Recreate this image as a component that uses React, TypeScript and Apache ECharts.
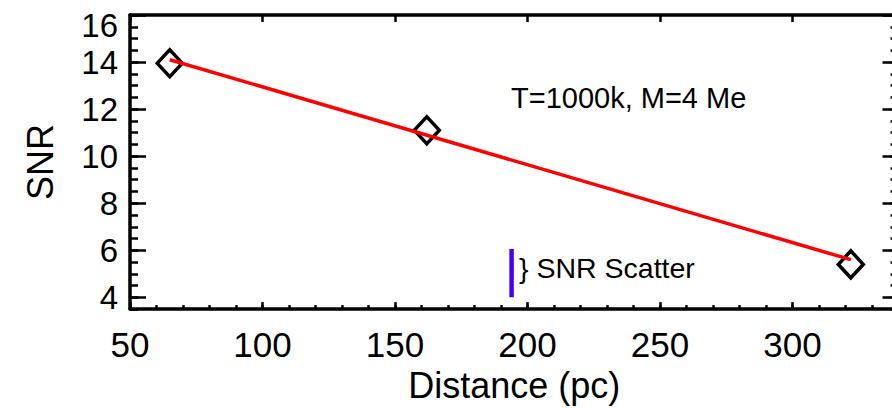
import React, { useEffect, useRef } from "react";
import * as echarts from "echarts";

// Measured SNR at each distance
const distances = [65, 162, 322];
const snrValues = [13.95, 11.1, 5.4];

// Straight-line fit drawn through the measurements
const fitDistances = [65, 322];
const fitSnr = [14.1, 5.6];

// Size of the SNR scatter, shown as a vertical bar
const scatterX = [194, 194];
const scatterY = [4.0, 6.05];

const xMajorTicks = [50, 100, 150, 200, 250, 300];
const yMajorTicks = [4, 6, 8, 10, 12, 14, 16];

const FONT = "'Liberation Sans', Arial, Helvetica, sans-serif";

export default function App() {
  const ref = useRef<HTMLDivElement>(null);

  useEffect(() => {
    if (!ref.current) return;
    const chart = echarts.init(ref.current, undefined, { renderer: "svg" });

    const black = "#000";
    const xBase = { type: "value" as const, min: 50, max: 340, splitLine: { show: false } };
    const yBase = { type: "value" as const, min: 3.5, max: 16, splitLine: { show: false } };

    chart.setOption({
      animation: false,
      backgroundColor: "#fff",
      grid: { left: 130, top: 15, width: 768.5, bottom: 93 },
      xAxis: [
        {
          ...xBase,
          position: "bottom",
          interval: 50,
          axisLine: { show: true, lineStyle: { color: black, width: 3.5 } },
          axisTick: { show: true, inside: true, length: 7, lineStyle: { color: black, width: 2.5 } },
          axisLabel: {
            color: black,
            fontSize: 35,
            fontFamily: FONT,
            margin: 18,
            formatter: (v: number) => (xMajorTicks.includes(v) ? String(v) : ""),
          },
          name: "Distance (pc)",
          nameLocation: "middle",
          nameGap: 50,
          nameTextStyle: { color: black, fontSize: 36, fontFamily: FONT },
        },
        {
          ...xBase,
          position: "bottom",
          interval: 10,
          axisLine: { show: false },
          axisTick: { show: true, inside: true, length: 4, lineStyle: { color: black, width: 2.5 } },
          axisLabel: { show: false },
        },
        {
          ...xBase,
          position: "top",
          interval: 50,
          axisLine: { show: true, lineStyle: { color: black, width: 3.5 } },
          axisTick: { show: true, inside: true, length: 7, lineStyle: { color: black, width: 2.5 } },
          axisLabel: { show: false },
        },
      ],
      yAxis: [
        {
          ...yBase,
          position: "left",
          axisLine: { show: true, lineStyle: { color: black, width: 3.5 } },
          axisTick: {
            show: true,
            inside: true,
            length: 16,
            customValues: yMajorTicks,
            lineStyle: { color: black, width: 2.5 },
          },
          axisLabel: {
            customValues: yMajorTicks,
            color: black,
            fontSize: 33,
            fontFamily: FONT,
            margin: 12,
            // the top label sits just below the frame's upper edge
            formatter: (v: number) => (v === 16 ? "{top|16}" : String(v)),
            rich: {
              top: { fontSize: 33, fontFamily: FONT, color: black, padding: [20, 0, 0, 0] },
            },
          },
          name: "SNR",
          nameLocation: "middle",
          nameGap: 72,
          nameTextStyle: { color: black, fontSize: 36, fontFamily: FONT },
        },
        {
          ...yBase,
          position: "left",
          interval: 0.5,
          axisLine: { show: false },
          axisTick: { show: true, inside: true, length: 8, lineStyle: { color: black, width: 2.5 } },
          axisLabel: { show: false },
        },
        {
          ...yBase,
          position: "right",
          axisLine: { show: true, lineStyle: { color: black, width: 3.5 } },
          axisTick: {
            show: true,
            inside: true,
            length: 16,
            customValues: yMajorTicks,
            lineStyle: { color: black, width: 2.5 },
          },
          axisLabel: { show: false },
        },
        {
          ...yBase,
          position: "right",
          interval: 0.5,
          axisLine: { show: false },
          axisTick: { show: true, inside: true, length: 8, lineStyle: { color: black, width: 2.5 } },
          axisLabel: { show: false },
        },
      ],
      series: [
        {
          name: "SNR",
          type: "line",
          xAxisIndex: 0,
          yAxisIndex: 0,
          data: distances.map((d, i) => [d, snrValues[i]]),
          lineStyle: { width: 0, opacity: 0 },
          symbol: "diamond",
          symbolSize: [25, 27],
          itemStyle: { color: "rgba(255,255,255,0)", borderColor: black, borderWidth: 3.5 },
          z: 2,
        },
        {
          name: "Fit",
          type: "line",
          xAxisIndex: 0,
          yAxisIndex: 0,
          data: fitDistances.map((d, i) => [d, fitSnr[i]]),
          lineStyle: { color: "#ff0000", width: 3.5 },
          symbol: "none",
          z: 3,
        },
        {
          name: "SNR Scatter",
          type: "line",
          xAxisIndex: 0,
          yAxisIndex: 0,
          data: scatterX.map((d, i) => [d, scatterY[i]]),
          lineStyle: { color: "#4400ff", width: 4.5, cap: "butt" },
          symbol: "none",
          z: 3,
        },
      ],
      graphic: [
        {
          type: "text",
          left: 511,
          top: 83,
          style: { text: "T=1000k, M=4 Me", fontSize: 29, fontFamily: FONT, fill: black },
        },
        {
          type: "text",
          left: 519,
          top: 253,
          style: { text: "} SNR Scatter", fontSize: 28.5, fontFamily: FONT, fill: black },
        },
      ],
    });

    return () => chart.dispose();
  }, []);

  return (
    <div
      ref={ref}
      style={{ position: "fixed", left: 0, top: 0, width: 910, height: 408, background: "#fff" }}
    />
  );
}
